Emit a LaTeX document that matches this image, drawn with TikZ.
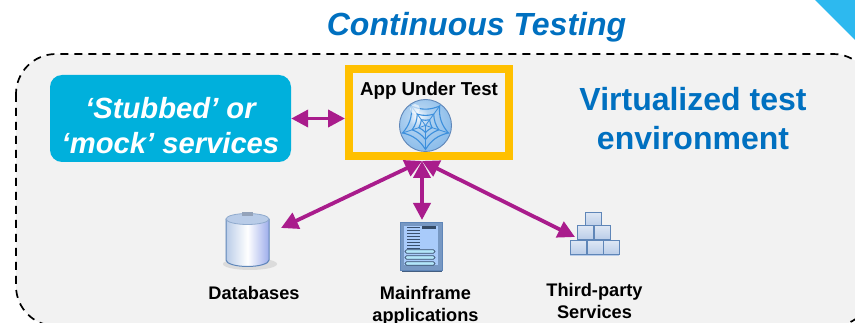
\documentclass[tikz,border=0pt]{standalone}
\usepackage{fontspec}
\setmainfont{Liberation Sans}
\usetikzlibrary{arrows.meta,calc}
\definecolor{panelgray}{HTML}{F2F2F2}
\definecolor{titleblue}{HTML}{0070C0}
\definecolor{cornerblue}{HTML}{2DB9EF}
\definecolor{stubblue}{HTML}{00B0DC}
\definecolor{appyellow}{HTML}{FFC000}
\definecolor{linkpurple}{HTML}{A91C8C}
\definecolor{iconedge}{HTML}{5F86B8}
\definecolor{iconlight}{HTML}{B9CCE8}
\definecolor{webblue}{HTML}{3C8FDC}
\definecolor{screenblue}{HTML}{A9CBFA}
\pgfdeclareradialshading{globeshade}{\pgfpoint{-8bp}{10bp}}{
  color(0bp)=(white);color(10bp)=(webblue!40);color(30bp)=(webblue!60);color(50bp)=(webblue!35)}
\tikzset{
  x=1pt,y=-1pt,
  link/.style={draw=linkpurple,line width=3.8pt,{Triangle[length=17pt,width=17pt]}-{Triangle[length=17pt,width=17pt]}},
  caption/.style={font=\fontsize{18.2}{22.5}\selectfont\bfseries,align=center,text=black,inner sep=0pt},
  iconbox/.style={inner sep=0pt,minimum width=#1},
  brick/.style={draw=iconedge,line width=1pt,top color=iconlight!50,bottom color=iconlight},
}
\begin{document}
\begin{tikzpicture}
\useasboundingbox (0,0) rectangle (855,323);
\clip (0,0) rectangle (855,323);
% corner and panel
\fill[cornerblue] (815,0) -- (855,0) -- (855,40) -- cycle;
\draw[fill=panelgray,draw=black,line width=1.7pt,dash pattern=on 8pt off 6pt,rounded corners=40pt]
  (16,54) rectangle (873,326);
\node[font=\fontsize{32}{34}\selectfont\bfseries\itshape,text=titleblue,inner sep=0pt] (title) at (476.5,27) {Continuous Testing};
\node[font=\fontsize{32}{39}\selectfont\bfseries,text=titleblue,align=center,inner sep=0pt] (env) at (693,118.5) {Virtualized test\\environment};
% stub box
\node[fill=stubblue,rounded corners=12pt,minimum width=241pt,minimum height=87pt,inner sep=0pt] (stub) at (170.5,118.5) {};
\node[font=\fontsize{29.2}{35}\selectfont\bfseries\itshape,text=white,align=center,inner sep=0pt] (stubl) at (170.5,126) {‘Stubbed’ or\\‘mock’ services};
% app under test
\node[draw=appyellow,line width=8pt,fill=panelgray,minimum width=160pt,minimum height=87pt,inner sep=0pt] (app) at (429,112.5) {};
\node[font=\fontsize{18.7}{20}\selectfont\bfseries,inner sep=0pt] (applabel) at (429,91) {App Under Test};
% globe
\coordinate (g) at (425.5,125.5);
\shade[shading=globeshade] (g) circle (26);
\draw[iconedge,line width=0.9pt] (g) circle (26);
\begin{scope}[draw=webblue,line width=1.1pt]
  \foreach \r/\b in {24/22,14/15,7/10}{
    \draw ($(g)+(90:\r)$) to[bend left=\b] ($(g)+(18:\r)$) to[bend left=\b] ($(g)+(-54:\r)$) to[bend left=\b] ($(g)+(-126:\r)$) to[bend left=\b] ($(g)+(162:\r)$) to[bend left=\b] cycle;
  }
  \foreach \a in {90,18,-54,-126,162}{\draw[line width=.8pt] (g) -- ($(g)+(\a:25)$);}
\end{scope}
\fill[white,opacity=.6] (415,109) circle (5);
% icon anchors
\node[iconbox=43pt,minimum height=55pt] (db) at (247.5,240) {};
\node[iconbox=42pt,minimum height=50pt] (mf) at (421,247) {};
\node[iconbox=49pt,minimum height=42pt] (tp) at (594.5,234) {};
\coordinate (dbend) at (281,228);
\coordinate (mfend) at (422,220);
\coordinate (tpend) at (575,237);
% database icon
\fill[gray!35,opacity=.7] (250,264) ellipse (27 and 6);
\path[left color=iconlight,right color=iconlight!85!blue,middle color=white] (226,219) -- (226,261) arc[start angle=180,end angle=360,x radius=21.5,y radius=-6] -- (269,219) -- cycle;
\draw[iconedge,line width=1pt] (226,219) -- (226,260) arc[start angle=180,end angle=360,x radius=21.5,y radius=-6.5] -- (269,219);
\draw[fill=iconlight,draw=iconedge!70,line width=.8pt] (247.5,219) ellipse (21.5 and 5.5);
\fill[iconlight!80!black] (242,212) rectangle (253,216);
% mainframe icon
\fill[iconedge!70!black] (402,268) rectangle (442,272.5);
\draw[fill=iconedge!85,draw=iconedge] (400,222) rectangle (442,270);
\fill[screenblue] (404,226) rectangle (438,265);
\fill[iconedge!55!black] (422,226) rectangle (436,229);
\foreach \yy in {227,230,...,248}{\draw[iconedge!60!black,line width=.7pt] (407,\yy) -- (420,\yy);}
\foreach \yy in {251.5,257.5,263.5}{\draw[fill=white!70!cyan,draw=iconedge!60!black,line width=.7pt,rounded corners=1.5pt] (405,\yy-1.7) rectangle (435,\yy+1.7);}
% third-party icon
\foreach \xa/\ya in {585/213,577/226,594/226,570/241,587/241,603/241}{
  \draw[brick] (\xa,\ya) rectangle (\xa+16,\ya+14);
}
\fill[iconlight] (570,255) rectangle (619,256);
% captions
\node[caption] (dbl) at (254,293) {Databases};
\node[caption] (mfl) at (425.5,306) {Mainframe\\applications};
\node[caption] (tpl) at (594.5,301) {Third-party\\Services};
% connectors
\coordinate (hub) at (422,161);
\draw[link] (stub.east) -- (stub.east -| app.west);
\draw[link] (hub) -- (dbend);
\draw[link] (hub) -- (mfend);
\draw[link] (hub) -- (tpend);
\end{tikzpicture}
\end{document}
